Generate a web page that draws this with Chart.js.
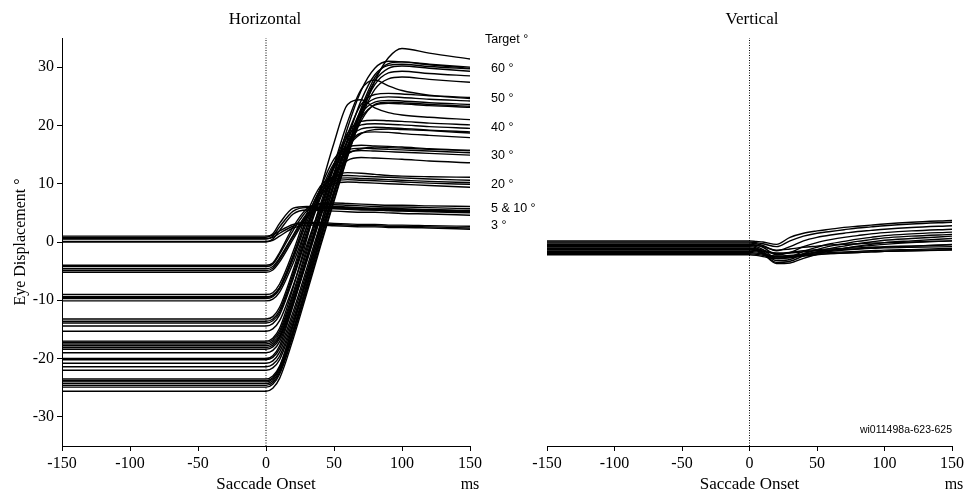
<!DOCTYPE html>
<html>
<head>
<meta charset="utf-8">
<title>Saccade traces</title>
<script src="https://cdn.jsdelivr.net/npm/chart.js@4.4.1/dist/chart.umd.min.js"></script>
<style>
    body { margin: 0; background: #fff; }
    #page { position: relative; width: 967px; height: 491px; overflow: hidden; background: #fff; }
    .panel { position: absolute; top: 0; height: 491px; }
    .txt { position: absolute; white-space: nowrap; color: #000; line-height: 1; }
    .mid { transform: translate(-50%, -50%); }
    .left { transform: translate(0, -50%); }
    .right { transform: translate(-100%, -50%); }
    .serif { font-family: "Liberation Serif", "DejaVu Serif", serif; }
    .sans { font-family: "Liberation Sans", Arial, sans-serif; }
</style>
</head>
<body>
<div id="page">
    <div class="panel" style="left:0;width:490px;"><canvas id="horizontalChart" width="490" height="491"></canvas></div>
    <div class="panel" style="left:480px;width:487px;"><canvas id="verticalChart" width="487" height="491"></canvas></div>

    <div class="txt serif mid" style="left:265px;top:18px;font-size:17px;">Horizontal</div>
    <div class="txt serif mid" style="left:752px;top:18px;font-size:17px;">Vertical</div>
    <div class="txt serif mid" style="left:470px;top:484px;font-size:16px;">ms</div>
    <div class="txt serif mid" style="left:954px;top:484px;font-size:16px;">ms</div>

    <div class="txt sans left" style="left:485px;top:39px;font-size:12.5px;">Target °</div>
    <div class="txt sans left" style="left:491px;top:68px;font-size:12.5px;">60 °</div>
    <div class="txt sans left" style="left:491px;top:98px;font-size:12.5px;">50 °</div>
    <div class="txt sans left" style="left:491px;top:127px;font-size:12.5px;">40 °</div>
    <div class="txt sans left" style="left:491px;top:155px;font-size:12.5px;">30 °</div>
    <div class="txt sans left" style="left:491px;top:184px;font-size:12.5px;">20 °</div>
    <div class="txt sans left" style="left:491px;top:208px;font-size:12.5px;">5 &amp; 10 °</div>
    <div class="txt sans left" style="left:491px;top:225px;font-size:12.5px;">3 °</div>

    <div class="txt sans right" style="left:952px;top:429px;font-size:10.5px;">wi011498a-623-625</div>
</div>

<script>
// sample times (ms from saccade onset) shared by every trace
var sampleTimes = [-150, 0, 5, 10, 20, 30, 40, 50, 60, 70, 80, 90, 100, 120, 150];

var xTickValues = [-150, -100, -50, 0, 50, 100, 150];
var yTickValues = [-30, -20, -10, 0, 10, 20, 30];
var onsetLine = [{ x: 0, y: -35 }, { x: 0, y: 35 }];

// horizontal eye position, one row per trial, grouped by target size
var horizontal3 = [
    [0.6, 0.6, 0.8, 1.5, 2.7, 3.2, 3.1, 3.0, 2.9, 2.8, 2.8, 2.7, 2.7, 2.6, 2.4],
    [0.1, 0.1, 0.3, 1.0, 2.4, 2.9, 2.9, 2.8, 2.7, 2.6, 2.6, 2.5, 2.5, 2.4, 2.2],
    [1.0, 1.0, 1.2, 1.9, 3.0, 3.4, 3.3, 3.2, 3.1, 3.0, 3.0, 2.9, 2.9, 2.8, 2.7]
];
var horizontal5 = [
    [0.5, 0.5, 1.0, 2.6, 5.3, 5.9, 5.8, 5.7, 5.6, 5.5, 5.5, 5.4, 5.3, 5.2, 5.0],
    [0.0, 0.0, 0.5, 2.0, 4.8, 5.5, 5.4, 5.3, 5.2, 5.1, 5.1, 5.0, 4.9, 4.8, 4.6],
    [0.8, 0.8, 1.4, 3.2, 5.8, 6.1, 6.0, 5.9, 5.8, 5.7, 5.6, 5.6, 5.5, 5.4, 5.2]
];
var horizontal10 = [
    [-4.2, -4.2, -3.8, -2.1, 2.0, 5.3, 6.4, 6.4, 6.3, 6.2, 6.1, 6.0, 6.0, 5.9, 5.7],
    [-4.6, -4.6, -4.2, -2.7, 1.2, 4.8, 6.0, 6.1, 6.0, 5.9, 5.8, 5.8, 5.7, 5.6, 5.4],
    [-5.2, -5.2, -4.8, -3.4, 0.5, 4.2, 5.7, 5.8, 5.7, 5.6, 5.5, 5.4, 5.4, 5.3, 5.1],
    [-4.9, -4.9, -4.5, -3.0, 0.9, 4.5, 5.9, 6.0, 5.9, 5.8, 5.7, 5.6, 5.6, 5.5, 5.3],
    [-4.0, -4.0, -3.6, -1.8, 2.6, 5.7, 6.6, 6.7, 6.6, 6.5, 6.4, 6.3, 6.3, 6.2, 6.1]
];
var horizontal20 = [
    [-9.0, -9.0, -8.7, -7.2, -1.6, 4.9, 9.6, 11.2, 11.4, 11.3, 11.2, 11.1, 11.0, 10.8, 10.6],
    [-9.4, -9.4, -9.1, -7.8, -2.3, 4.1, 9.0, 10.8, 11.0, 10.9, 10.8, 10.7, 10.6, 10.4, 10.2],
    [-9.7, -9.7, -9.4, -8.1, -2.9, 3.4, 8.4, 10.4, 10.7, 10.6, 10.5, 10.4, 10.3, 10.1, 9.9],
    [-10.1, -10.1, -9.8, -8.6, -3.6, 2.6, 7.8, 10.0, 10.3, 10.2, 10.1, 10.0, 9.9, 9.7, 9.4],
    [-9.5, -9.5, -9.2, -7.9, -2.4, 4.0, 9.0, 11.2, 11.9, 11.8, 11.6, 11.4, 11.3, 11.2, 11.1]
];
var horizontal30 = [
    [-13.2, -13.2, -12.8, -11.2, -4.8, 2.6, 9.2, 14.2, 16.3, 16.6, 16.5, 16.4, 16.3, 16.0, 15.7],
    [-13.6, -13.6, -13.2, -11.7, -5.4, 1.9, 8.5, 13.5, 15.8, 16.1, 16.0, 15.9, 15.8, 15.6, 15.3],
    [-13.9, -13.9, -13.5, -12.1, -5.9, 1.3, 7.9, 13.0, 15.3, 15.7, 15.6, 15.5, 15.4, 15.2, 14.9],
    [-15.3, -15.3, -14.9, -13.5, -7.5, -0.5, 6.1, 11.4, 14.0, 14.5, 14.4, 14.3, 14.2, 13.9, 13.6],
    [-14.4, -14.4, -14.0, -12.5, -6.3, 0.9, 7.5, 12.7, 15.1, 16.0, 16.3, 16.2, 16.1, 15.9, 15.7]
];
var horizontal40 = [
    [-17.2, -17.2, -16.8, -15.3, -8.7, -1.1, 6.5, 13.3, 18.7, 20.7, 20.9, 20.8, 20.7, 20.4, 20.1],
    [-17.5, -17.5, -17.1, -15.7, -9.2, -1.7, 5.9, 12.7, 18.1, 20.1, 20.3, 20.2, 20.1, 19.8, 19.5],
    [-17.8, -17.8, -17.4, -16.1, -9.7, -2.4, 5.1, 11.9, 17.3, 19.4, 19.7, 19.6, 19.5, 19.2, 18.9],
    [-18.1, -18.1, -17.7, -16.3, -10.1, -2.9, 4.5, 11.2, 16.5, 18.7, 18.9, 18.8, 18.6, 18.3, 17.9],
    [-17.0, -17.0, -16.5, -14.8, -7.8, 0.5, 9.0, 17.0, 23.6, 24.4, 23.0, 22.2, 21.8, 21.4, 21.0],
    [-18.4, -18.4, -18.0, -16.6, -10.4, -3.2, 4.2, 10.9, 16.2, 18.6, 19.3, 19.4, 19.3, 19.1, 18.7]
];
var horizontal50 = [
    [-19.0, -19.0, -18.6, -17.1, -10.7, -3.3, 4.3, 11.5, 18.5, 23.6, 25.3, 25.5, 25.4, 25.1, 24.8],
    [-20.2, -20.2, -19.8, -18.3, -11.9, -4.5, 3.1, 10.3, 17.3, 22.6, 24.6, 24.9, 24.8, 24.5, 24.2],
    [-20.8, -20.8, -20.4, -18.9, -12.6, -5.2, 2.4, 9.6, 16.6, 22.0, 24.0, 24.3, 24.2, 23.9, 23.6],
    [-21.4, -21.4, -21.0, -19.6, -13.3, -6.0, 1.6, 8.8, 15.8, 21.3, 23.5, 23.8, 23.7, 23.4, 23.1],
    [-20.0, -20.0, -19.5, -17.8, -10.8, -2.8, 5.4, 13.2, 20.6, 26.2, 27.8, 26.8, 26.0, 25.2, 24.6],
    [-22.0, -22.0, -21.6, -20.2, -13.9, -6.6, 1.0, 8.2, 15.2, 20.8, 23.6, 24.0, 23.9, 23.6, 23.3]
];
var horizontal60 = [
    [-25.6, -25.6, -25.1, -23.4, -16.6, -8.8, -0.8, 7.0, 14.6, 21.6, 27.6, 31.6, 33.2, 32.4, 31.4],
    [-24.0, -24.0, -23.5, -21.8, -15.0, -7.2, 0.8, 8.6, 16.2, 23.0, 28.2, 30.6, 30.9, 30.5, 30.0],
    [-24.3, -24.3, -23.8, -22.1, -15.3, -7.5, 0.5, 8.3, 15.9, 22.6, 27.6, 29.8, 30.2, 29.8, 29.3],
    [-24.6, -24.6, -24.1, -22.4, -15.6, -7.8, 0.2, 8.0, 15.5, 22.2, 27.0, 29.0, 29.3, 28.9, 28.5],
    [-23.5, -23.5, -23.0, -21.3, -14.3, -6.3, 1.9, 9.9, 17.7, 24.3, 28.7, 30.3, 30.5, 30.1, 29.7],
    [-24.9, -24.9, -24.4, -22.7, -16.0, -8.3, -0.4, 7.3, 14.8, 21.4, 26.2, 28.0, 28.3, 27.9, 27.4],
    [-23.8, -23.8, -23.3, -21.5, -14.2, -5.8, 2.8, 11.4, 19.6, 26.0, 29.8, 31.0, 30.9, 30.4, 29.8]
];

// vertical eye position for the same trials
var verticalTraces = [
    [0.2, 0.2, 0.1, 0.0, -0.4, 0.8, 1.5, 1.9, 2.2, 2.5, 2.7, 2.9, 3.1, 3.4, 3.7],
    [0.0, 0.0, -0.1, -0.3, -0.8, 0.2, 1.0, 1.5, 1.8, 2.1, 2.4, 2.6, 2.8, 3.1, 3.4],
    [-0.2, -0.2, -0.3, -0.6, -1.5, -0.8, 0.2, 0.8, 1.2, 1.5, 1.8, 2.0, 2.2, 2.5, 2.8],
    [-0.4, -0.4, -0.5, -0.9, -2.2, -1.8, -0.8, -0.1, 0.4, 0.8, 1.1, 1.4, 1.6, 1.9, 2.2],
    [-0.6, -0.6, -0.8, -1.3, -2.8, -2.6, -1.6, -0.9, -0.3, 0.1, 0.5, 0.8, 1.1, 1.4, 1.7],
    [-0.8, -0.8, -1.0, -1.6, -3.2, -3.0, -2.0, -1.3, -0.7, -0.3, 0.1, 0.4, 0.7, 1.0, 1.3],
    [-1.0, -1.0, -1.2, -1.8, -3.5, -3.3, -2.4, -1.7, -1.1, -0.7, -0.3, 0.0, 0.3, 0.6, 1.0],
    [-1.2, -1.2, -1.4, -2.0, -3.7, -3.6, -2.8, -2.1, -1.5, -1.1, -0.7, -0.4, -0.1, 0.2, 0.6],
    [-1.4, -1.4, -1.5, -1.9, -2.8, -2.6, -2.1, -1.7, -1.4, -1.1, -0.8, -0.6, -0.4, -0.1, 0.2],
    [-1.6, -1.6, -1.7, -2.0, -2.5, -2.4, -2.1, -1.8, -1.6, -1.4, -1.2, -1.0, -0.9, -0.7, -0.4],
    [-1.8, -1.8, -1.9, -2.1, -2.4, -2.3, -2.1, -2.0, -1.8, -1.7, -1.6, -1.5, -1.4, -1.3, -1.1],
    [-2.0, -2.0, -2.1, -2.3, -2.6, -2.5, -2.3, -2.1, -2.0, -1.9, -1.8, -1.7, -1.6, -1.5, -1.3],
    [-2.2, -2.2, -2.3, -2.5, -2.9, -2.7, -2.4, -2.2, -2.0, -1.9, -1.8, -1.7, -1.6, -1.5, -1.4],
    [-1.1, -1.1, -1.2, -1.4, -1.9, -1.8, -1.5, -1.3, -1.2, -1.1, -1.0, -0.9, -0.8, -0.7, -0.5],
    [-0.5, -0.5, -0.6, -0.8, -1.4, -1.2, -0.9, -0.7, -0.5, -0.4, -0.3, -0.2, -0.1, 0.0, 0.2],
    [-1.3, -1.3, -1.4, -1.6, -2.0, -1.9, -1.7, -1.5, -1.4, -1.3, -1.2, -1.1, -1.0, -0.9, -0.8]
];

var serifFont = '"Liberation Serif", "DejaVu Serif", serif';

document.addEventListener('DOMContentLoaded', function () {
    drawHorizontalChart();
    drawVerticalChart();
});

function traceDatasets(rows) {
    var sets = [];
    rows.forEach(function (values) {
        sets.push({
            data: values.map(function (v, i) {
                return { x: sampleTimes[i], y: v };
            }),
            borderColor: '#000',
            borderWidth: 1.4,
            pointRadius: 0,
            fill: false,
            cubicInterpolationMode: 'monotone'
        });
    });
    return sets;
}

function onsetDataset() {
    return {
        data: onsetLine,
        borderColor: '#000',
        borderWidth: 1,
        borderDash: [1, 1.5],
        pointRadius: 0,
        fill: false,
        tension: 0
    };
}

function xScale() {
    return {
        type: 'linear',
        min: -150,
        max: 150,
        afterBuildTicks: function (scale) {
            scale.ticks = xTickValues.map(function (v) { return { value: v }; });
        },
        afterFit: function (scale) {
            scale.height = 45;
        },
        grid: {
            drawOnChartArea: false,
            color: '#000',
            tickLength: 5
        },
        border: {
            color: '#000',
            width: 1
        },
        ticks: {
            color: '#000',
            padding: 3,
            maxRotation: 0,
            font: { family: serifFont, size: 16 }
        },
        title: {
            display: true,
            text: 'Saccade Onset',
            color: '#000',
            padding: { top: 0, bottom: -2 },
            font: { family: serifFont, size: 17, lineHeight: 1 }
        }
    };
}

function chartOptions(padding, yOptions) {
    return {
        animation: false,
        responsive: false,
        events: [],
        layout: { padding: padding },
        plugins: {
            legend: { display: false },
            tooltip: { enabled: false }
        },
        scales: {
            x: xScale(),
            y: yOptions
        }
    };
}

function drawHorizontalChart() {
    var rows = [].concat(horizontal3, horizontal5, horizontal10, horizontal20,
        horizontal30, horizontal40, horizontal50, horizontal60);
    var datasets = traceDatasets(rows);
    datasets.push(onsetDataset());

    new Chart(document.getElementById('horizontalChart'), {
        type: 'line',
        data: { datasets: datasets },
        options: chartOptions({ top: 38, right: 20, bottom: 0, left: 0 }, {
            type: 'linear',
            min: -35,
            max: 35,
            afterBuildTicks: function (scale) {
                scale.ticks = yTickValues.map(function (v) { return { value: v }; });
            },
            afterFit: function (scale) {
                scale.width = 62;
            },
            grid: {
                drawOnChartArea: false,
                color: '#000',
                tickLength: 5
            },
            border: { color: '#000', width: 1 },
            ticks: {
                color: '#000',
                padding: 3,
                font: { family: serifFont, size: 16 }
            },
            title: {
                display: true,
                text: 'Eye Displacement °',
                color: '#000',
                padding: { top: 11 },
                font: { family: serifFont, size: 16, lineHeight: 1.2 }
            }
        })
    });
}

function drawVerticalChart() {
    var datasets = traceDatasets(verticalTraces);
    datasets.push(onsetDataset());

    new Chart(document.getElementById('verticalChart'), {
        type: 'line',
        data: { datasets: datasets },
        options: chartOptions({ top: 38, right: 13, bottom: 0, left: 67 }, {
            type: 'linear',
            min: -35,
            max: 35,
            display: false
        })
    });
}
</script>
</body>
</html>
